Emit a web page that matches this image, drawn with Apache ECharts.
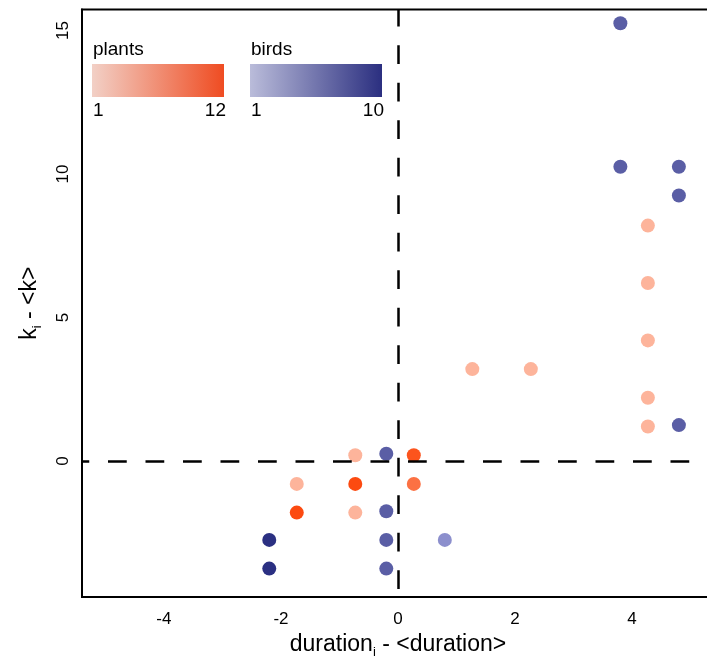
<!DOCTYPE html>
<html>
<head>
<meta charset="utf-8">
<script src="https://cdn.jsdelivr.net/npm/echarts@6/dist/echarts.min.js"></script>
<style>
  html, body { margin: 0; padding: 0; background: #fff; }
  #main { width: 707px; height: 659px; }
</style>
</head>
<body>
<div id="main"></div>
<script>
// plants (orange) : x, y and number of interactions (colour scale 1..12)
var plantX = [4.27, 4.27, 4.27, 4.27, 4.27, 1.27, 2.27, -0.73, -1.73, -0.73, -1.73, -0.73, 0.27, 0.27];
var plantY = [8.2, 6.2, 4.2, 2.2, 1.2, 3.2, 3.2, 0.2, -0.8, -0.8, -1.8, -1.8, 0.2, -0.8];
var plantN = [1, 1, 1, 1, 1, 1, 1, 1, 1, 12, 12, 1, 11, 8];

// birds (blue) : colour scale 1..10
var birdX = [3.8, 3.8, 4.8, 4.8, 4.8, -0.2, -0.2, -0.2, -0.2, 0.8, -2.2, -2.2];
var birdY = [15.25, 10.25, 10.25, 9.25, 1.25, 0.25, -1.75, -2.75, -3.75, -2.75, -2.75, -3.75];
var birdN = [7, 7, 7, 7, 7, 7, 7, 7, 7, 4, 10, 10];

var xTicks = [-4, -2, 0, 2, 4];
var yTicks = [0, 5, 10, 15];

var X_MIN = -5.4, X_MAX = 5.4;
var Y_MIN = -4.74, Y_MAX = 15.73;

var FONT = 'Liberation Sans';

function zip(xs, ys, ns) {
    var out = [];
    for (var i = 0; i < xs.length; i++) out.push([xs[i], ys[i], ns[i]]);
    return out;
}

var chart = echarts.init(document.getElementById('main'));

// colour keys drawn top left
function colourKey(left, title, lo, hi, c0, c1) {
    return [
        { type: 'text', left: left + 1, top: 40, style: { text: title, font: '19px ' + FONT, fill: '#000' } },
        {
            type: 'rect', shape: { x: left, y: 64, width: 132, height: 33 },
            style: {
                fill: new echarts.graphic.LinearGradient(0, 0, 1, 0, [
                    { offset: 0, color: c0 }, { offset: 1, color: c1 }
                ])
            }
        },
        { type: 'text', left: left + 1, top: 101, style: { text: lo, font: '19px ' + FONT, fill: '#000' } },
        { type: 'text', right: 707 - left - 134, top: 101, style: { text: hi, font: '19px ' + FONT, fill: '#000', align: 'right' } }
    ];
}

// outward tick marks as short solid mark lines (length in axis units)
var tickStyle = { type: 'solid', width: 2, color: '#000', dashOffset: 0 };
var tickLines = [];
xTicks.forEach(function (v) {
    tickLines.push([{ coord: [v, Y_MIN], lineStyle: tickStyle }, { coord: [v, Y_MIN - 0.28] }]);
});
yTicks.forEach(function (v) {
    tickLines.push([{ coord: [X_MIN, v], lineStyle: tickStyle }, { coord: [X_MIN - 0.12, v] }]);
});

var option = {
    animation: false,
    backgroundColor: '#fff',
    grid: {
        left: 82, top: 9.5, width: 632, height: 587.5,
        outerBoundsMode: 'none', containLabel: false,
        show: true, borderColor: '#000', borderWidth: 2
    },
    xAxis: {
        type: 'value', min: X_MIN, max: X_MAX,
        position: 'bottom',
        splitLine: { show: false },
        axisLine: { show: true, onZero: false, lineStyle: { color: '#000', width: 2 } },
        axisTick: { show: false },
        axisLabel: { margin: 14, color: '#000', fontSize: 17, fontFamily: FONT, customValues: xTicks },
        name: '{t|duration}{s|i}{t| - <duration>}',
        nameLocation: 'middle', nameGap: 21,
        nameTextStyle: {
            color: '#000',
            rich: {
                t: { fontSize: 23, fontFamily: FONT, color: '#000' },
                s: { fontSize: 13, fontFamily: FONT, color: '#000', padding: [16, 0, 0, 0] }
            }
        }
    },
    yAxis: {
        type: 'value', min: Y_MIN, max: Y_MAX,
        position: 'left',
        splitLine: { show: false },
        axisLine: { show: true, onZero: false, lineStyle: { color: '#000', width: 2 } },
        axisTick: { show: false },
        axisLabel: { margin: 10, rotate: 90, color: '#000', fontSize: 17, fontFamily: FONT, customValues: yTicks },
        name: '{t|k}{s|i}{t| - <k>}',
        nameLocation: 'middle', nameGap: 38, nameRotate: 90,
        nameTextStyle: {
            color: '#000',
            rich: {
                t: { fontSize: 23, fontFamily: FONT, color: '#000' },
                s: { fontSize: 13, fontFamily: FONT, color: '#000', padding: [16, 0, 0, 0] }
            }
        }
    },
    visualMap: [
        {
            show: false, seriesIndex: 0, dimension: 2, min: 1, max: 12,
            inRange: { color: ['#fdb49b', '#fc4a10'] }
        },
        {
            show: false, seriesIndex: 1, dimension: 2, min: 1, max: 10,
            inRange: { color: ['#b9bbe6', '#8c8fcd', '#5a5ea5', '#2b3082'] }
        }
    ],
    series: [
        {
            name: 'plants', type: 'scatter', symbolSize: 14,
            itemStyle: { opacity: 1 },
            data: zip(plantX, plantY, plantN),
            markLine: {
                silent: true, symbol: 'none', label: { show: false },
                lineStyle: { color: '#000', width: 2.5, type: [18.75, 18.75] },
                data: [
                    { yAxis: 0, lineStyle: { dashOffset: 11.5 } },
                    { xAxis: 0, lineStyle: { dashOffset: 29.5 } }
                ]
            }
        },
        {
            name: 'birds', type: 'scatter', symbolSize: 14,
            itemStyle: { opacity: 1 },
            data: zip(birdX, birdY, birdN),
            markLine: {
                silent: true, symbol: 'none', label: { show: false },
                lineStyle: tickStyle,
                data: tickLines
            }
        }
    ],
    graphic: [].concat(
        colourKey(92, 'plants', '1', '12', '#f2d0c6', '#ef4c22'),
        colourKey(250, 'birds', '1', '10', '#babcda', '#2b2f80')
    )
};

chart.setOption(option);
</script>
</body>
</html>
